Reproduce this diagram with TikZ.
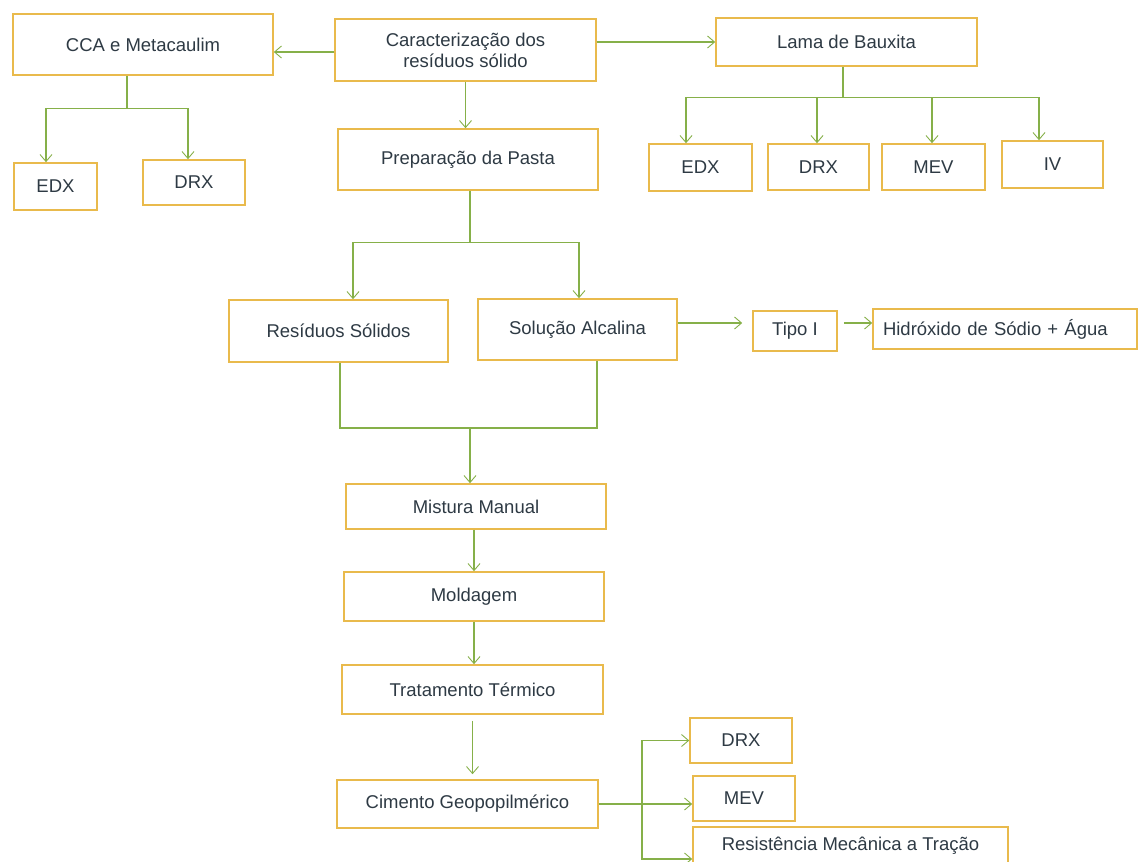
\documentclass[tikz,border=0pt]{standalone}
\usepackage{fontspec}
\setmainfont{Liberation Sans}
\usetikzlibrary{arrows.meta}
\definecolor{boxc}{HTML}{E9BA4C}
\definecolor{arrc}{HTML}{86B049}
\definecolor{txtc}{HTML}{2E3A44}
\begin{document}
\begin{tikzpicture}[x=1pt,y=-1pt,
  box/.style={draw=boxc, line width=1.6pt, fill=white, inner sep=0pt, text=txtc,
    font=\fontsize{18.5}{21}\selectfont, align=center},
  ln/.style={draw=arrc, line width=1.1pt},
  arr/.style={ln, -{Straight Barb[length=7pt,width=12pt,line width=0.9pt]}}]
\clip (0,0) rectangle (1139,861);
\fill[white] (0,0) rectangle (1139,861);
% nodes
\node[box, minimum width=260, minimum height=61] (cca) at (143,44.5) {CCA e Metacaulim};
\node[box, minimum width=83, minimum height=47] (edxL) at (55.5,186.5) {EDX};
\node[box, minimum width=102, minimum height=45] (drxL) at (194,182.5) {DRX};
\node[box, minimum width=261, minimum height=62] (car) at (465.5,50) {Caracterização dos\\resíduos sólido};
\node[box, minimum width=261, minimum height=48] (lama) at (846.5,42) {Lama de Bauxita};
\node[box, minimum width=260, minimum height=61] (prep) at (468,159.5) {Preparação da Pasta};
\node[box, minimum width=103, minimum height=47] (edxR) at (700.5,167.5) {EDX};
\node[box, minimum width=101, minimum height=46] (drxR) at (818.5,167) {DRX};
\node[box, minimum width=103, minimum height=46] (mevR) at (933.5,167) {MEV};
\node[box, minimum width=101, minimum height=47] (iv) at (1052.5,164.5) {IV};
\node[box, minimum width=219, minimum height=62] (res) at (338.5,331) {Resíduos Sólidos};
\node[box, minimum width=199, minimum height=61] (sol) at (577.5,329.5) {Solução Alcalina};
\node[box, minimum width=84, minimum height=40] (tipo) at (795,331) {Tipo I};
\node[box, minimum width=264, minimum height=40, text width=244, align=left] (hid) at (1005,329) {Hidróxido de Sódio + Água};
\node[box, minimum width=260, minimum height=45] (mist) at (476,506.5) {Mistura Manual};
\node[box, minimum width=260, minimum height=49] (mold) at (474,596.5) {Moldagem};
\node[box, minimum width=261, minimum height=49] (trat) at (472.5,689.5) {Tratamento Térmico};
\node[box, minimum width=261, minimum height=48] (cim) at (467.5,804) {Cimento Geopopilmérico};
\node[box, minimum width=102, minimum height=45] (drxB) at (741,740.5) {DRX};
\node[box, minimum width=102, minimum height=45] (mevB) at (744,798.5) {MEV};
\node[box, minimum width=315, minimum height=38] (resist) at (850.5,846) {Resistência Mecânica a Tração};
% connectors
\draw[arr] (car.west |- 0,52) -- (cca.east |- 0,52);
\draw[arr] (car.east |- lama.west) -- (lama.west);
\draw[ln] ([xshift=-16]cca.south) -- ++(0,33) coordinate (cj);
\draw[arr] (cj) -| ([xshift=-9.5]edxL.north);
\draw[arr] (cj) -| ([xshift=-6]drxL.north);
\draw[arr] (car.south) -- (car.south |- prep.north);
\draw[ln] ([xshift=-3.5]lama.south) -- ++(0,31) coordinate (lj);
\draw[arr] (lj) -| ([xshift=-14.5]edxR.north);
\draw[arr] (lj) -| ([xshift=-1.5]drxR.north);
\draw[arr] (lj) -| ([xshift=-1.5]mevR.north);
\draw[arr] (lj) -| ([xshift=-13.5]iv.north);
\draw[ln] ([xshift=2]prep.south) -- ++(0,52) coordinate (pj);
\draw[arr] (pj) -| ([xshift=14.5]res.north);
\draw[arr] (pj) -| ([xshift=1.5]sol.north);
\coordinate (mj) at (470,428);
\draw[ln] ([xshift=1.5]res.south) |- (mj);
\draw[ln] ([xshift=19.5]sol.south) |- (mj);
\draw[arr] (mj) -- (mj |- mist.north);
\draw[arr, shorten >=10] ([yshift=6.5]sol.east) -- ([yshift=6.5]sol.east -| tipo.west);
\draw[arr, shorten <=6] ([yshift=8]tipo.east) -- ([yshift=8]tipo.east -| hid.west);
\draw[arr] (mold.north |- mist.south) -- (mold.north);
\draw[arr] (mold.south) -- (mold.south |- trat.north);
\draw[arr, shorten <=6, shorten >=5] (trat.south) -- (trat.south |- cim.north);
\coordinate (cj2) at (642,804);
\draw[arr] (cim.east) -- (cim.east -| mevB.west);
\draw[arr] (cj2) |- (drxB.west);
\draw[arr] (cj2) |- ([yshift=-13]resist.west);
\end{tikzpicture}
\end{document}
